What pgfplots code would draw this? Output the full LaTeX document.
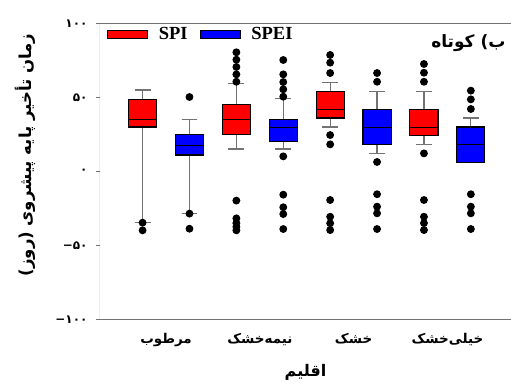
\documentclass[border=0pt]{standalone}
\usepackage{fontspec}
\usepackage{pgfplots}
\pgfplotsset{compat=1.18}
\usepgfplotslibrary{statistics}
\setmainfont{Liberation Serif}
\newfontfamily\fa[Script=Arabic]{DejaVu Sans}
\newfontfamily\fad{DejaVu Sans}
\TeXXeTstate=1
\pgfplotsset{
  redswatch/.style={legend image code/.code={\path[fill=red, draw=black, line width=1pt] (0pt,-4pt) rectangle (40pt,4pt); \path (45pt,0pt);}},
  blueswatch/.style={legend image code/.code={\path[fill=blue, draw=black, line width=1pt] (0pt,-4pt) rectangle (40pt,4pt); \path (45pt,0pt);}},
}
\begin{document}
\begin{tikzpicture}
\begin{axis}[
  name=ax,
  scale only axis, width=411pt, height=296pt,
  xmin=0.296, xmax=4.678, ymin=-100, ymax=100,
  axis line style={draw=none},
  xtick={1,2,3,4},
  xticklabels={{\beginR مرطوب\endR},{\beginR نیمه‌خشک\endR},{\beginR خشک\endR},{\beginR خیلی‌خشک\endR}},
  xtick style={draw=none},
  xticklabel style={font=\fa\bfseries\fontsize{13.5}{15}\selectfont, anchor=base, yshift=-20pt},
  ytick={-100,-50,0,50,100},
  yticklabels={{\hbox{−}\hbox{۱۰۰}},{\hbox{−}\hbox{۵۰}},{۰},{۵۰},{۱۰۰}},
  ytick pos=left, tick align=outside, major tick length=4pt,
  ytick style={draw=black!55, line width=1pt},
  yticklabel style={font=\fad\bfseries\fontsize{12}{13}\selectfont, xshift=-5pt},
  xlabel={\beginR اقلیم\endR},
  xlabel style={font=\fa\bfseries\fontsize{16}{18}\selectfont, at={(axis description cs:0.5,-0.178)}, anchor=center},
  ylabel={\beginR زمان تأخیر پایه پیشروی (روز)\endR},
  ylabel style={font=\fa\bfseries\fontsize{16.5}{18}\selectfont, at={(axis description cs:-0.1825,0.555)}, anchor=center},
  boxplot/draw direction=y,
  boxplot/box extend=0.3,
  boxplot/whisker extend=0.17,
  boxplot/every box/.style={draw=black, line width=1.1pt},
  boxplot/every whisker/.style={draw=black!55, line width=1.2pt},
  boxplot/every median/.style={draw=black, line width=1pt},
  legend columns=2,
  legend style={at={(rel axis cs:0.017,0.99)}, anchor=north west, draw=none, fill=none,
    font=\bfseries\fontsize{18.5}{20}\selectfont, inner sep=0pt,
    nodes={inner xsep=6pt, inner ysep=1pt},
    /tikz/every even column/.append style={column sep=6pt}},
]
\addlegendimage{redswatch}
\addlegendentry{SPI}
\addlegendimage{blueswatch}
\addlegendentry{SPEI}

% مرطوب
\addplot+[forget plot, solid, fill=red, draw=black, line width=1pt, mark=*, mark size=3.4pt, mark options={fill=black,draw=black},
  boxplot prepared={draw position=0.75, median=35.1, upper quartile=48.6, lower quartile=29.9, upper whisker=54.9, lower whisker=-34.7}]
  table[row sep=\\, y index=0] {data\\ -34.7\\ -39.9\\};
\addplot+[forget plot, solid, fill=blue, draw=black, line width=1pt, mark=*, mark size=3.4pt, mark options={fill=black,draw=black},
  boxplot prepared={draw position=1.25, median=17.6, upper quartile=24.7, lower quartile=11.0, upper whisker=34.9, lower whisker=-28.6}]
  table[row sep=\\, y index=0] {data\\ 50.2\\ -28.6\\ -38.8\\};
% نیمه‌خشک
\addplot+[forget plot, solid, fill=red, draw=black, line width=1pt, mark=*, mark size=3.4pt, mark options={fill=black,draw=black},
  boxplot prepared={draw position=1.75, median=35.1, upper quartile=45.0, lower quartile=24.7, upper whisker=59.2, lower whisker=15.1}]
  table[row sep=\\, y index=0] {data\\ 80.4\\ 75.4\\ 70.5\\ 65.5\\ 60.5\\ -19.8\\ -31.8\\ -35.0\\ -37.5\\ -39.9\\};
\addplot+[forget plot, solid, fill=blue, draw=black, line width=1pt, mark=*, mark size=3.4pt, mark options={fill=black,draw=black},
  boxplot prepared={draw position=2.25, median=29.9, upper quartile=34.9, lower quartile=20.0, upper whisker=49.1, lower whisker=15.1}]
  table[row sep=\\, y index=0] {data\\ 75.2\\ 65.5\\ 60.3\\ 55.4\\ 50.4\\ 10.1\\ -15.8\\ -24.3\\ -28.9\\ -39.0\\};
% خشک
\addplot+[forget plot, solid, fill=red, draw=black, line width=1pt, mark=*, mark size=3.4pt, mark options={fill=black,draw=black},
  boxplot prepared={draw position=2.75, median=41.9, upper quartile=53.8, lower quartile=36.0, upper whisker=59.9, lower whisker=29.9}]
  table[row sep=\\, y index=0] {data\\ 78.6\\ 73.4\\ 66.4\\ 24.5\\ 18.2\\ -19.4\\ -30.7\\ -35.1\\ -39.7\\};
\addplot+[forget plot, solid, fill=blue, draw=black, line width=1pt, mark=*, mark size=3.4pt, mark options={fill=black,draw=black},
  boxplot prepared={draw position=3.25, median=29.9, upper quartile=41.9, lower quartile=18.0, upper whisker=53.8, lower whisker=11.9}]
  table[row sep=\\, y index=0] {data\\ 66.4\\ 60.5\\ 6.3\\ -15.5\\ -23.9\\ -28.4\\ -39.0\\};
% خیلی‌خشک
\addplot+[forget plot, solid, fill=red, draw=black, line width=1pt, mark=*, mark size=3.4pt, mark options={fill=black,draw=black},
  boxplot prepared={draw position=3.75, median=29.9, upper quartile=41.9, lower quartile=23.9, upper whisker=53.8, lower whisker=18.0}]
  table[row sep=\\, y index=0] {data\\ 72.5\\ 66.6\\ 60.5\\ 12.1\\ -19.4\\ -30.7\\ -35.0\\ -39.7\\};
\addplot+[forget plot, solid, fill=blue, draw=black, line width=1pt, mark=*, mark size=3.4pt, mark options={fill=black,draw=black},
  boxplot prepared={draw position=4.25, median=18.0, upper quartile=29.9, lower quartile=5.8, upper whisker=36.0, lower whisker=5.8}]
  table[row sep=\\, y index=0] {data\\ 54.5\\ 48.6\\ 42.1\\ -15.5\\ -23.9\\ -28.4\\ -39.0\\};

\draw[black!55, line width=1pt] (rel axis cs:1,1) -- (rel axis cs:0,1) -- (rel axis cs:0,0) -- (rel axis cs:1,0);
\node[font=\fa\bfseries\fontsize{17}{19}\selectfont, anchor=east] at (rel axis cs:0.995,0.933) {\beginR ب) کوتاه\endR};
\end{axis}
\pgfresetboundingbox
\path (ax.south west) ++(-100pt,-68.7pt) coordinate (bl);
\path (ax.north east) ++(0pt,23.3pt) coordinate (tr);
\useasboundingbox (bl) rectangle (tr);
\end{tikzpicture}
\end{document}
